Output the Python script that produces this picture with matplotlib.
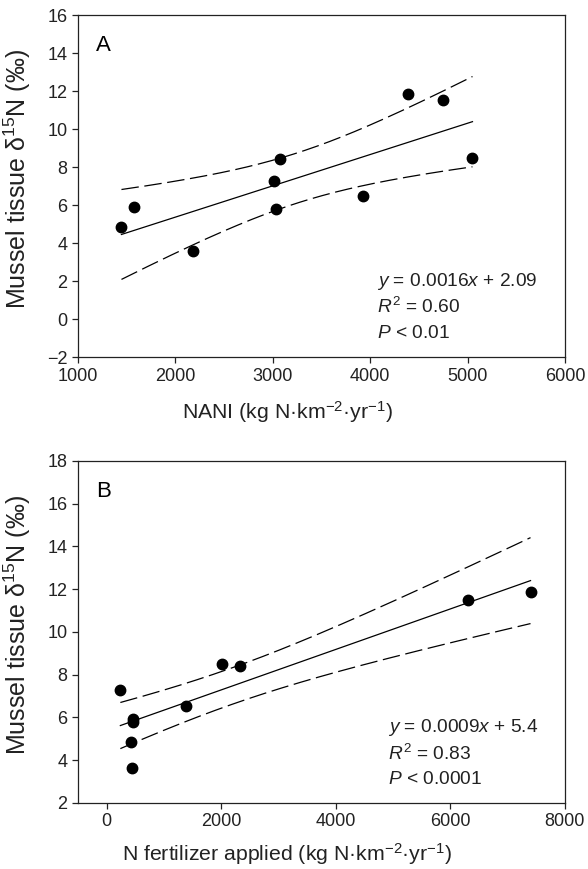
import numpy as np
import matplotlib
matplotlib.use('Agg')
import matplotlib.pyplot as plt

plt.rcParams['font.family'] = ['Liberation Sans', 'DejaVu Sans']
plt.rcParams['mathtext.fontset'] = 'custom'
plt.rcParams['mathtext.rm'] = 'Liberation Sans'
plt.rcParams['mathtext.it'] = 'Liberation Sans:italic'

# mussel tissue d15N (same sites in both panels)
nani = [1446, 1573, 2181, 3010, 3079, 3030, 3925, 4390, 4749, 5051]
d15n_a = [4.83, 5.92, 3.59, 7.25, 8.42, 5.79, 6.50, 11.86, 11.51, 8.50]

fert = [239, 465, 465, 419, 442, 1379, 2013, 2321, 6300, 7400]
d15n_b = [7.27, 5.94, 5.79, 4.83, 3.62, 6.52, 8.50, 8.42, 11.51, 11.85]

T95 = 2.306  # t(0.975, df=8)


def fit_ci(x, y):
    x = np.asarray(x, float)
    y = np.asarray(y, float)
    n = len(x)
    b1, b0 = np.polyfit(x, y, 1)
    resid = y - (b0 + b1 * x)
    s = np.sqrt(np.sum(resid ** 2) / (n - 2))
    xs = np.linspace(x.min(), x.max(), 200)
    yh = b0 + b1 * xs
    sxx = np.sum((x - x.mean()) ** 2)
    hw = T95 * s * np.sqrt(1.0 / n + (xs - x.mean()) ** 2 / sxx)
    return xs, yh, yh - hw, yh + hw


def panel(ax, x, y, letter, lines, xlim, ylim, xticks, yticks, xlabel, tx, ty, xl_y):
    xs, yh, lo, hi = fit_ci(x, y)
    ax.plot(xs, yh, color='black', lw=0.9)
    ax.plot(xs, lo, color='black', lw=0.9, dashes=(14, 4.5))
    ax.plot(xs, hi, color='black', lw=0.9, dashes=(14, 4.5))
    ax.plot(x, y, 'o', color='black', ms=7.5, mec='black')
    ax.set_xlim(*xlim)
    ax.set_ylim(*ylim)
    ax.set_xticks(xticks)
    ax.set_yticks(yticks)
    ax.set_yticklabels([str(v).replace('-', '\u2212') for v in yticks])
    ax.tick_params(direction='out', length=4, width=0.9, labelsize=13,
                   top=False, right=False, colors='#222222')
    for sp in ax.spines.values():
        sp.set_linewidth(0.9)
        sp.set_color('#222222')
    ax.set_xlabel(xlabel, fontsize=15.3, color='#222222')
    ax.xaxis.set_label_coords(0.429, xl_y)
    ax.set_ylabel('Mussel tissue δ$^{15}$N (‰)', fontsize=18, color='#222222')
    ax.yaxis.set_label_coords(-0.092, 0.52)
    ax.text(0.037, 0.91, letter, transform=ax.transAxes, fontsize=16, va='center', ha='left')
    for i, s in enumerate(lines):
        ax.text(tx, ty - i * 0.076, s, transform=ax.transAxes, fontsize=13.8,
                ha='left', va='center', color='#222222')


fig = plt.figure(figsize=(5.88, 8.69), dpi=100)
ax1 = fig.add_axes([0.1327, 0.589, 0.828, 0.3936])
ax2 = fig.add_axes([0.1327, 0.076, 0.828, 0.3936])

panel(ax1, nani, d15n_a, 'A',
      ['$y$ = 0.0016$x$ + 2.09', '$R^2$ = 0.60', '$P$ < 0.01'],
      (1000, 6000), (-2, 16), [1000, 2000, 3000, 4000, 5000, 6000], list(range(-2, 17, 2)),
      'NANI (kg N·km$^{-2}$·yr$^{-1}$)', 0.614, 0.222, -0.123)

panel(ax2, fert, d15n_b, 'B',
      ['$y$ = 0.0009$x$ + 5.4', '$R^2$ = 0.83', '$P$ < 0.0001'],
      (-500, 8000), (2, 18), [0, 2000, 4000, 6000, 8000], list(range(2, 19, 2)),
      'N fertilizer applied (kg N·km$^{-2}$·yr$^{-1}$)', 0.637, 0.22, -0.112)

fig.savefig('out.png', dpi=100)
